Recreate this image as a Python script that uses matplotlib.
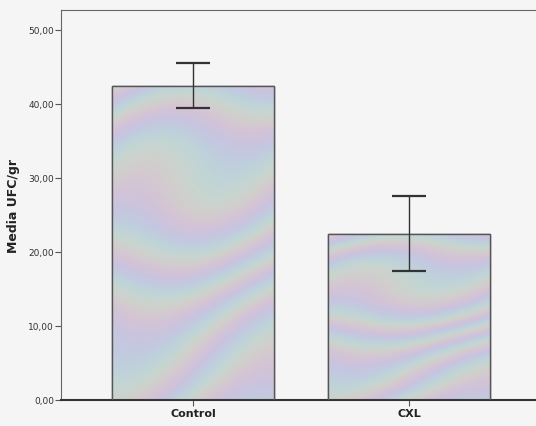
import numpy as np
import matplotlib
matplotlib.use("Agg")
import matplotlib.pyplot as plt

categories = ["Control", "CXL"]
means = [42.4, 22.4]
err_low = [39.4, 17.4]
err_high = [45.5, 27.6]
yticks = [0, 10, 20, 30, 40, 50]
ytick_labels = ["0,00", "10,00", "20,00", "30,00", "40,00", "50,00"]

fig = plt.figure(figsize=(5.36, 4.27), dpi=100)
fig.patch.set_facecolor("#f5f5f5")
ax = fig.add_axes([61/536, 26/427, 480/536, 390/427])
ax.set_facecolor("#f5f5f5")

x = np.arange(len(categories))
bars = ax.bar(x, means, width=0.75, color="#cdc9d6", edgecolor="#555555", linewidth=1.0, zorder=2)

# iridescent pastel texture clipped to bars (decoration only)
ny, nx = 400, 300
yy, xx = np.mgrid[0:ny, 0:nx]
phase = yy / 11.0 + 3.0 * np.sin(xx / 70.0 + yy / 90.0) + xx / 60.0 + 1.5 * np.sin(yy / 37.0)
r = 0.79 + 0.04 * np.sin(phase)
g = 0.80 + 0.035 * np.sin(phase + 2.1)
b = 0.84 + 0.035 * np.sin(phase + 4.2)
tex = np.dstack([r, g, b]).clip(0, 1)
for bar in bars:
    bx, by = bar.get_x(), bar.get_y()
    w, h = bar.get_width(), bar.get_height()
    im = ax.imshow(tex, extent=[bx, bx + w, by, by + h], aspect="auto", zorder=2.5, interpolation="bilinear")
    im.set_clip_path(bar)
    ax.bar(bar.get_x() + w/2, h, width=w, fill=False, edgecolor="#555555", linewidth=1.0, zorder=3)

yerr = [np.array(means) - np.array(err_low), np.array(err_high) - np.array(means)]
ax.errorbar(x, means, yerr=yerr, fmt="none", ecolor="#333333", elinewidth=1.0, capsize=12, capthick=1.6, zorder=4)

ax.set_xlim(-0.61, 1.61)
ax.set_ylim(0, 52.7)
ax.set_yticks(yticks)
ax.set_yticklabels(ytick_labels, fontsize=6.5, color="#333333")
ax.set_xticks(x)
ax.set_xticklabels(categories, fontsize=8, fontweight="bold", color="#222222")
ax.tick_params(axis="y", length=4, width=0.8, color="#555555", pad=1)
ax.tick_params(axis="x", length=4, width=0.8, color="#555555", pad=2)
ax.set_ylabel("Media UFC/gr", fontsize=9, fontweight="bold", color="#222222", labelpad=6)

for s in ["left", "top", "right"]:
    ax.spines[s].set_color("#666666")
    ax.spines[s].set_linewidth(0.8)
ax.spines["bottom"].set_color("#333333")
ax.spines["bottom"].set_linewidth(1.5)

fig.savefig("out.png", dpi=100, facecolor=fig.get_facecolor())
